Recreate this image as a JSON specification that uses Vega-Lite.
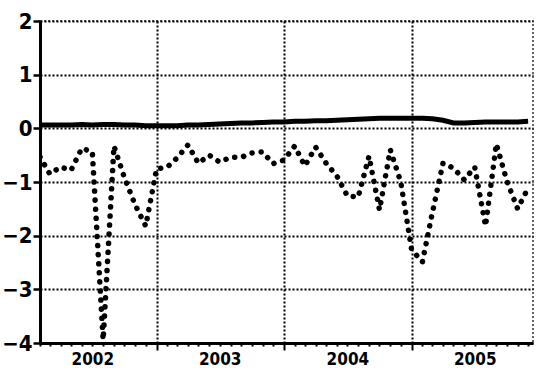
{
  "$schema": "https://vega.github.io/schema/vega-lite/v6.json",
  "autosize": "none",
  "padding": {"left": 40, "top": 21, "right": 4, "bottom": 33},
  "width": 493,
  "height": 322,
  "background": "white",
  "config": {
    "view": {"stroke": "#333", "strokeDash": [2, 2], "strokeWidth": 1.5}
  },
  "data": {
    "values": [
      {"date": "2002-02-01", "a": 0.06, "b": -0.53},
      {"date": "2002-03-01", "a": 0.06, "b": -0.85},
      {"date": "2002-04-01", "a": 0.06, "b": -0.72},
      {"date": "2002-05-01", "a": 0.06, "b": -0.78},
      {"date": "2002-06-01", "a": 0.07, "b": -0.37},
      {"date": "2002-07-01", "a": 0.06, "b": -0.44},
      {"date": "2002-08-01", "a": 0.07, "b": -3.94},
      {"date": "2002-09-01", "a": 0.07, "b": -0.33},
      {"date": "2002-10-01", "a": 0.06, "b": -0.92},
      {"date": "2002-11-01", "a": 0.06, "b": -1.43},
      {"date": "2002-12-01", "a": 0.05, "b": -1.82},
      {"date": "2003-01-01", "a": 0.05, "b": -0.76},
      {"date": "2003-02-01", "a": 0.05, "b": -0.72},
      {"date": "2003-03-01", "a": 0.05, "b": -0.55},
      {"date": "2003-04-01", "a": 0.06, "b": -0.31},
      {"date": "2003-05-01", "a": 0.06, "b": -0.65},
      {"date": "2003-06-01", "a": 0.07, "b": -0.5},
      {"date": "2003-07-01", "a": 0.08, "b": -0.63},
      {"date": "2003-08-01", "a": 0.09, "b": -0.54},
      {"date": "2003-09-01", "a": 0.1, "b": -0.54},
      {"date": "2003-10-01", "a": 0.1, "b": -0.46},
      {"date": "2003-11-01", "a": 0.11, "b": -0.44},
      {"date": "2003-12-01", "a": 0.12, "b": -0.66},
      {"date": "2004-01-01", "a": 0.12, "b": -0.59},
      {"date": "2004-02-01", "a": 0.13, "b": -0.33},
      {"date": "2004-03-01", "a": 0.13, "b": -0.7},
      {"date": "2004-04-01", "a": 0.14, "b": -0.35},
      {"date": "2004-05-01", "a": 0.14, "b": -0.65},
      {"date": "2004-06-01", "a": 0.15, "b": -0.89},
      {"date": "2004-07-01", "a": 0.16, "b": -1.26},
      {"date": "2004-08-01", "a": 0.17, "b": -1.28},
      {"date": "2004-09-01", "a": 0.18, "b": -0.52},
      {"date": "2004-10-01", "a": 0.19, "b": -1.52},
      {"date": "2004-11-01", "a": 0.19, "b": -0.4},
      {"date": "2004-12-01", "a": 0.19, "b": -1.0},
      {"date": "2005-01-01", "a": 0.19, "b": -2.26},
      {"date": "2005-02-01", "a": 0.19, "b": -2.49},
      {"date": "2005-03-01", "a": 0.18, "b": -1.59},
      {"date": "2005-04-01", "a": 0.15, "b": -0.65},
      {"date": "2005-05-01", "a": 0.1, "b": -0.74},
      {"date": "2005-06-01", "a": 0.1, "b": -0.96},
      {"date": "2005-07-01", "a": 0.11, "b": -0.72},
      {"date": "2005-08-01", "a": 0.12, "b": -1.82},
      {"date": "2005-09-01", "a": 0.12, "b": -0.29},
      {"date": "2005-10-01", "a": 0.12, "b": -0.98},
      {"date": "2005-11-01", "a": 0.12, "b": -1.5},
      {"date": "2005-12-01", "a": 0.13, "b": -1.11}
    ]
  },
  "encoding": {
    "x": {
      "field": "date",
      "type": "temporal",
      "scale": {"type": "utc", "domain": ["2002-02-01", "2005-12-15"]},
      "axis": {
        "title": null,
        "tickCount": {"interval": "month", "step": 1},
        "labelExpr": "utcmonth(datum.value) === 6 ? utcFormat(datum.value, '%Y') : ''",
        "labelOverlap": false,
        "labelFlush": false,
        "labelFont": "DejaVu Sans Condensed",
        "labelFontWeight": "bold",
        "labelFontSize": 17,
        "labelColor": "black",
        "labelPadding": 5,
        "domainColor": "black",
        "domainWidth": 3,
        "tickColor": "black",
        "tickWidth": 2,
        "tickSize": {"condition": {"test": "utcmonth(datum.value) === 0", "value": 7}, "value": 3},
        "grid": true,
        "gridColor": "black",
        "gridWidth": 2,
        "gridDash": [2, 2],
        "gridOpacity": {"condition": {"test": "utcmonth(datum.value) === 0", "value": 1}, "value": 0}
      }
    }
  },
  "layer": [
    {
      "mark": {"type": "line", "color": "black", "strokeWidth": 5.5, "strokeDash": [0.1, 9], "strokeCap": "round", "clip": true},
      "encoding": {
        "y": {
          "field": "b",
          "type": "quantitative",
          "scale": {"domain": [-4, 2], "nice": false},
          "axis": {
            "title": null,
            "values": [-4, -3, -2, -1, 0, 1, 2],
            "format": "d",
            "labelFont": "DejaVu Sans Condensed",
            "labelFontWeight": "bold",
            "labelFontSize": 22,
            "labelColor": "black",
            "labelPadding": 1,
            "domainColor": "black",
            "domainWidth": 3,
            "tickColor": "black",
            "tickWidth": 2.5,
            "tickSize": 7,
            "grid": true,
            "gridColor": "black",
            "gridWidth": 2,
            "gridDash": [2, 2]
          }
        }
      }
    },
    {
      "mark": {"type": "line", "color": "black", "strokeWidth": 5},
      "encoding": {
        "y": {"field": "a", "type": "quantitative"}
      }
    }
  ]
}
